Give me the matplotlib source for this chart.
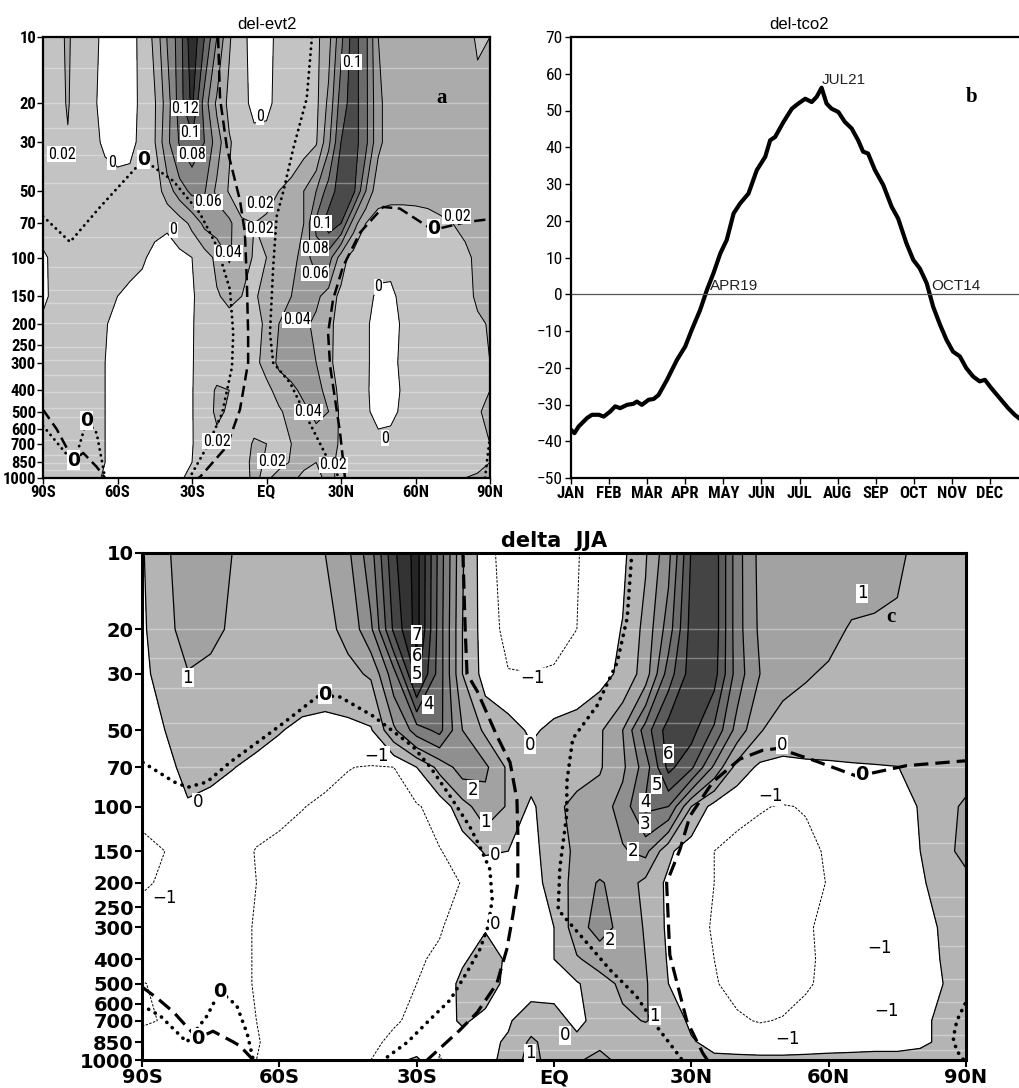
import numpy as np
import matplotlib
matplotlib.use('Agg')
import matplotlib.pyplot as plt
from matplotlib.ticker import NullLocator, FixedLocator

# ---------------- data ----------------
lats = np.arange(-90, 91, 5)
plevs = [10, 20, 30, 50, 70, 100, 150, 200, 300, 400, 500, 700, 850, 1000]
p_ticks = [10, 20, 30, 50, 70, 100, 150, 200, 250, 300, 400, 500, 600, 700, 850, 1000]
lat_ticks = [-90, -60, -30, 0, 30, 60, 90]
lat_labels = ['90S', '60S', '30S', 'EQ', '30N', '60N', '90N']

# panel a : del-evt2  (rows = pressure level, columns = 90S..90N every 5 deg)
evt_p10 = [0.01, 0.015, 0.022, 0.012, 0.005, -0.005, -0.01, -0.005, 0.004, 0.025, 0.061, 0.09, 0.135, 0.10, 0.06, 0.022, 0.006, -0.008, -0.005, 0.004, 0.008, 0.012, 0.015, 0.033, 0.075, 0.11, 0.085, 0.04, 0.03, 0.03, 0.03, 0.03, 0.03, 0.03, 0.028, 0.017, 0.02]
evt_p20 = [0.01, 0.015, 0.021, 0.012, 0.003, -0.006, -0.01, -0.006, 0.004, 0.018, 0.05, 0.09, 0.125, 0.07, 0.036, 0.015, 0.006, -0.005, -0.004, 0.005, 0.01, 0.012, 0.015, 0.045, 0.09, 0.11, 0.085, 0.045, 0.03, 0.03, 0.03, 0.03, 0.03, 0.03, 0.03, 0.028, 0.025]
evt_p30 = [0.01, 0.017, 0.019, 0.01, 0.003, -0.002, -0.004, -0.003, 0.003, 0.019, 0.055, 0.082, 0.092, 0.08, 0.05, 0.022, 0.01, 0.006, 0.006, 0.008, 0.01, 0.012, 0.018, 0.055, 0.1, 0.11, 0.085, 0.045, 0.03, 0.03, 0.03, 0.03, 0.03, 0.03, 0.03, 0.03, 0.03]
evt_p50 = [0.008, 0.01, 0.01, 0.01, 0.008, 0.006, 0.005, 0.005, 0.005, 0.008, 0.03, 0.05, 0.065, 0.062, 0.035, 0.018, 0.012, 0.015, 0.018, 0.02, 0.025, 0.04, 0.06, 0.09, 0.11, 0.105, 0.06, 0.025, 0.025, 0.025, 0.025, 0.025, 0.025, 0.025, 0.025, 0.025, 0.025]
evt_p70 = [0.008, 0.008, 0.008, 0.008, 0.008, 0.006, 0.006, 0.006, 0.005, 0.004, 0.002, 0.01, 0.025, 0.045, 0.05, 0.045, 0.022, 0.02, 0.021, 0.025, 0.025, 0.04, 0.085, 0.11, 0.1, 0.05, 0.02, 0.015, 0.012, 0.012, 0.013, 0.015, 0.018, 0.02, 0.022, 0.024, 0.025]
evt_p100 = [-0.003, 0.005, 0.008, 0.008, 0.008, 0.007, 0.006, 0.004, 0.002, -0.004, -0.006, -0.004, 0.0, 0.01, 0.025, 0.042, 0.03, 0.018, 0.02, 0.028, 0.03, 0.05, 0.07, 0.07, 0.03, 0.01, 0.008, 0.005, 0.004, 0.005, 0.007, 0.009, 0.012, 0.015, 0.018, 0.022, 0.025]
evt_p150 = [-0.003, 0.004, 0.007, 0.007, 0.006, 0.004, 0.0, -0.003, -0.006, -0.008, -0.008, -0.006, -0.002, 0.008, 0.018, 0.025, 0.02, 0.018, 0.025, 0.03, 0.04, 0.05, 0.045, 0.03, 0.015, 0.01, 0.005, -0.003, -0.003, 0.004, 0.006, 0.008, 0.01, 0.013, 0.016, 0.022, 0.025]
evt_p200 = [0.003, 0.005, 0.006, 0.006, 0.004, 0.001, -0.004, -0.008, -0.01, -0.01, -0.01, -0.008, -0.001, 0.006, 0.01, 0.012, 0.014, 0.016, 0.022, 0.04, 0.045, 0.045, 0.035, 0.025, 0.012, 0.006, 0.002, -0.005, -0.005, 0.002, 0.005, 0.007, 0.009, 0.012, 0.015, 0.018, 0.021]
evt_p300 = [0.005, 0.006, 0.006, 0.005, 0.003, 0.0, -0.005, -0.01, -0.012, -0.012, -0.012, -0.01, -0.001, 0.008, 0.012, 0.014, 0.015, 0.016, 0.025, 0.045, 0.05, 0.045, 0.04, 0.025, 0.01, 0.006, 0.002, -0.005, -0.004, 0.003, 0.006, 0.008, 0.01, 0.012, 0.014, 0.016, 0.02]
evt_p400 = [0.006, 0.006, 0.006, 0.005, 0.003, 0.0, -0.005, -0.01, -0.012, -0.012, -0.012, -0.01, -0.001, 0.012, 0.022, 0.02, 0.012, 0.012, 0.016, 0.025, 0.035, 0.045, 0.045, 0.035, 0.012, 0.005, 0.002, -0.006, -0.006, 0.002, 0.006, 0.008, 0.01, 0.012, 0.014, 0.016, 0.02]
evt_p500 = [0.005, 0.006, 0.006, 0.005, 0.003, 0.0, -0.005, -0.01, -0.012, -0.012, -0.012, -0.01, -0.001, 0.012, 0.023, 0.018, 0.01, 0.012, 0.014, 0.018, 0.025, 0.035, 0.045, 0.04, 0.015, 0.006, 0.002, -0.004, -0.004, 0.003, 0.006, 0.008, 0.01, 0.012, 0.014, 0.018, 0.025]
evt_p700 = [0.004, 0.005, 0.005, 0.005, 0.003, 0.0, -0.005, -0.01, -0.012, -0.012, -0.012, -0.008, -0.001, 0.01, 0.015, 0.012, 0.012, 0.022, 0.02, 0.014, 0.02, 0.021, 0.03, 0.035, 0.015, 0.006, 0.004, 0.004, 0.006, 0.006, 0.007, 0.008, 0.01, 0.012, 0.014, 0.016, 0.02]
evt_p850 = [0.004, 0.005, 0.005, 0.004, 0.002, 0.0, -0.005, -0.01, -0.01, -0.01, -0.01, -0.006, 0.0, 0.008, 0.01, 0.01, 0.012, 0.025, 0.018, 0.012, 0.022, 0.022, 0.02, 0.025, 0.015, 0.008, 0.005, 0.005, 0.006, 0.006, 0.007, 0.008, 0.01, 0.012, 0.014, 0.016, 0.02]
evt_p1000 = [0.004, 0.004, 0.004, 0.003, 0.002, -0.001, -0.005, -0.008, -0.008, -0.008, -0.006, -0.002, 0.004, 0.006, 0.008, 0.01, 0.012, 0.024, 0.015, 0.03, 0.022, 0.018, 0.018, 0.022, 0.018, 0.012, 0.01, 0.01, 0.01, 0.01, 0.01, 0.012, 0.014, 0.016, 0.02, 0.022, 0.024]

# panel c : delta JJA
jja_p10 = [-0.1, 0.9, 1.3, 1.3, 0.98, 0.8, 0.75, 0.8, 1.0, 1.8, 3.6, 6.8, 8.4, 4.6, 1.1, -0.6, -1.5, -1.6, -1.4, -1.05, -0.6, -0.2, 0.9, 2.7, 6.1, 6.6, 3.4, 1.7, 1.6, 1.6, 1.5, 1.5, 1.4, 1.1, 0.85, 0.7, 0.7]
jja_p20 = [-0.2, 0.8, 1.25, 1.15, 0.9, 0.75, 0.7, 0.7, 0.8, 1.2, 2.8, 6.2, 8.4, 4.5, 1.0, -0.5, -1.3, -1.5, -1.3, -1.0, -0.5, 0.05, 1.3, 3.5, 6.4, 6.6, 3.4, 1.8, 1.6, 1.6, 1.3, 0.9, 0.85, 0.9, 0.8, 0.7, 0.7]
jja_p30 = [-0.3, 0.5, 0.97, 0.85, 0.7, 0.6, 0.55, 0.5, 0.55, 0.8, 1.1, 3.6, 7.4, 4.5, 1.0, -0.4, -0.95, -0.98, -0.9, -0.8, -0.3, 0.2, 1.5, 4.5, 6.5, 6.4, 3.5, 2.0, 1.5, 1.1, 0.85, 0.8, 0.8, 0.8, 0.75, 0.7, 0.7]
jja_p50 = [-0.4, 0.0, 0.45, 0.4, 0.35, 0.25, 0.05, -0.2, -0.35, -0.3, -0.1, 1.8, 3.5, 4.3, 2.0, 0.8, 0.5, -0.2, 0.3, 0.6, 0.85, 2.0, 4.5, 6.5, 6.4, 4.8, 2.6, 1.1, 0.3, 0.3, 0.3, 0.3, 0.3, 0.35, 0.4, 0.45, 0.5]
jja_p70 = [-0.5, -0.3, 0.3, 0.25, 0.02, -0.2, -0.45, -0.7, -0.85, -0.98, -1.05, -1.0, 0.0, 1.3, 2.5, 2.2, 0.8, 0.5, 0.5, 0.6, 0.9, 1.8, 3.5, 6.3, 5.2, 2.8, 0.6, -0.2, -0.15, -0.1, -0.08, -0.05, -0.03, -0.01, 0.15, 0.35, 0.5]
jja_p100 = [-0.8, -0.6, -0.1, -0.3, -0.45, -0.6, -0.85, -0.98, -1.1, -1.2, -1.25, -1.2, -1.1, -0.6, 0.6, 1.6, 0.9, -0.2, 0.75, 1.3, 1.5, 2.4, 4.2, 4.0, 1.0, -0.4, -0.8, -0.95, -1.05, -0.95, -0.7, -0.5, -0.4, -0.3, 0.05, 0.6, 1.2]
jja_p150 = [-1.2, -1.0, -0.5, -0.5, -0.6, -1.05, -1.15, -1.25, -1.35, -1.4, -1.4, -1.35, -1.25, -1.05, -0.6, 0.1, 0.0, -0.3, 0.5, 1.2, 1.3, 1.9, 2.3, 0.2, -0.6, -1.0, -1.2, -1.3, -1.3, -1.2, -0.9, -0.6, -0.5, -0.4, 0.0, 0.8, 1.2]
jja_p200 = [-1.05, -0.95, -0.6, -0.6, -0.75, -1.0, -1.2, -1.3, -1.4, -1.45, -1.45, -1.4, -1.3, -1.15, -0.98, -0.7, -0.4, -0.2, 0.2, 1.5, 2.1, 1.6, 0.7, -0.2, -0.7, -1.0, -1.3, -1.4, -1.45, -1.3, -0.95, -0.7, -0.6, -0.5, -0.1, 0.3, 0.8]
jja_p300 = [-0.8, -0.7, -0.6, -0.65, -0.8, -1.05, -1.25, -1.35, -1.45, -1.5, -1.5, -1.45, -1.3, -1.1, -0.5, -0.05, -0.2, -0.4, 0.0, 1.6, 2.4, 1.7, 0.9, -0.2, -0.8, -1.05, -1.3, -1.4, -1.4, -1.1, -0.8, -0.6, -0.5, -0.45, -0.3, 0.1, 0.4]
jja_p400 = [-0.6, -0.5, -0.5, -0.6, -0.8, -1.05, -1.25, -1.35, -1.45, -1.5, -1.45, -1.35, -1.15, -0.8, -0.1, 0.3, -0.1, -0.3, 0.0, 0.9, 1.4, 1.4, 1.0, -0.1, -0.7, -1.0, -1.3, -1.4, -1.4, -1.15, -0.8, -0.6, -0.7, -0.7, -0.3, 0.05, 0.35]
jja_p500 = [-1.05, -0.8, -0.5, -0.6, -0.8, -1.05, -1.25, -1.35, -1.4, -1.4, -1.3, -1.15, -1.0, -0.5, 0.2, 0.35, -0.2, -0.4, -0.3, -0.1, 0.6, 1.2, 1.1, 0.0, -0.6, -0.95, -1.2, -1.3, -1.3, -1.1, -0.8, -0.6, -0.8, -0.7, -0.3, 0.0, 0.3]
jja_p700 = [-1.1, -0.95, -0.4, -0.5, -0.7, -1.0, -1.15, -1.25, -1.3, -1.3, -1.2, -1.05, -0.9, -0.3, 0.1, -0.2, -0.1, 0.5, 0.3, -0.2, 0.3, 0.8, 1.05, 0.6, -0.2, -0.6, -0.9, -1.05, -0.95, -0.7, -0.5, -0.4, -0.5, -0.4, -0.1, 0.1, 0.3]
jja_p850 = [-0.7, -0.6, -0.3, -0.4, -0.6, -0.98, -1.1, -1.2, -1.2, -1.2, -1.1, -0.9, -0.8, -0.9, -0.3, -0.2, 0.1, 1.2, 0.5, 0.2, 0.6, 0.4, 0.3, 0.3, 0.1, -0.3, -0.4, -0.5, -0.5, -0.4, -0.3, -0.25, -0.2, -0.2, -0.1, 0.1, 0.3]
jja_p1000 = [-0.5, -0.4, -0.2, -0.3, -0.5, -1.0, -1.1, -1.15, -1.15, -1.1, -1.0, -0.3, 0.2, -1.05, -0.5, -0.2, 0.2, 1.5, 0.3, 0.8, 1.5, 0.5, 0.2, 0.2, 0.2, 0.2, 0.2, 0.2, 0.2, 0.2, 0.2, 0.2, 0.2, 0.2, 0.2, 0.1, 0.4]

# zero lines of companion fields (thick dashed / thick dotted), lat and pressure
evt_dash1_lat = [-19.5, -18.7, -15.9, -10.7, -8.7, -7.9, -7.4, -7.4, -10.7, -16.0, -26.8, -27.5]
evt_dash1_p = [10, 19, 32, 55, 77, 130, 220, 300, 490, 720, 990, 1000]
evt_dash2_lat = [31.6, 29.6, 25.6, 24.8, 26.8, 30.8, 37.7, 47.0, 53.7, 67.0, 80.6, 90.0]
evt_dash2_p = [1000, 620, 310, 220, 155, 110, 77, 59, 60, 75, 69, 67]
evt_dash3_lat = [-90, -84.5, -77.8, -73.8, -68.4, -65.0]
evt_dash3_p = [490, 600, 830, 770, 890, 1000]
evt_dot1_lat = [-90, -79.1, -67.0, -49.6, -37.5, -26.8, -20.0, -14.7, -13.4, -13.9, -17.9, -23.9, -30.8]
evt_dot1_p = [65, 85, 59, 36, 45, 63, 89, 140, 220, 314, 510, 720, 990]
evt_dot2_lat = [18.3, 16.2, 10.8, 6.8, 4.1, 2.7, 1.4, 2.7, 9.5, 16.2, 24.2, 28.3, 29.0]
evt_dot2_p = [10, 19, 32, 50, 65, 110, 220, 300, 370, 530, 800, 950, 1000]
evt_dot3_lat = [-90, -80.5, -77.8, -72.4, -68.4, -65.0]
evt_dot3_p = [580, 780, 880, 550, 625, 1000]
evt_dot4_lat = [90, 89.0, 88.0]
evt_dot4_p = [650, 800, 1000]

jja_dash1_lat = [-19.9, -19.4, -19.0, -16.8, -12.4, -9.6, -8.1, -7.9, -7.9, -9.0, -10.3, -12.5, -16.8, -20.5, -27.7]
jja_dash1_p = [10, 20, 30, 35, 53, 67, 94, 127, 200, 270, 365, 500, 650, 760, 1000]
jja_dash2_lat = [33.5, 32.5, 29.0, 25.3, 24.6, 27.5, 29.7, 34.7, 40.6, 45.6, 49.0, 57.0, 66.2, 77.0, 90.0]
jja_dash2_p = [1000, 940, 700, 385, 200, 148, 109, 80, 65, 60, 59, 66, 76, 69, 66]
jja_dash3_lat = [-90, -86.7, -83.0, -80.2, -77.8, -74.5, -70.0, -68.6, -65.7]
jja_dash3_p = [515, 570, 650, 740, 820, 770, 850, 880, 1000]
jja_dot1_lat = [-89.8, -83, -80, -75.8, -70.8, -64.9, -59.2, -51.8, -50, -46.7, -39.5, -30.8, -27, -22.7, -18.4, -16.2, -14, -13.5, -14.4, -16.2, -19, -22.7, -27, -32, -37.3]
jja_dot1_p = [67, 80, 84, 80, 67, 56, 47, 37, 36.5, 37, 44, 58, 70, 91, 120, 144, 177, 233, 297, 366, 450, 580, 690, 850, 1000]
jja_dot2_lat = [17, 16, 13.8, 9.4, 4.1, 2.8, 2.8, 1.3, 0.9, 2.8, 7.2, 12.2, 18, 22.5, 26.8, 28]
jja_dot2_p = [10, 18, 27, 40, 54, 80, 107, 173, 255, 280, 345, 440, 560, 740, 935, 1000]
jja_dot3_lat = [-90, -86, -80.2, -75.8, -73, -69.3, -67, -65.7]
jja_dot3_p = [610, 670, 850, 670, 535, 610, 790, 1000]
jja_dot4_lat = [89.8, 88.0, 87.2, 88.0, 89.5]
jja_dot4_p = [600, 700, 820, 920, 1000]

# panel b : del-tco2 (x in months since 1 Jan)
tco_month = [0.0, 0.09, 0.2, 0.42, 0.55, 0.73, 0.86, 1.03, 1.16, 1.29, 1.47, 1.64, 1.73, 1.86, 2.04, 2.17, 2.3, 2.52, 2.78, 3.0, 3.17, 3.39, 3.57, 3.74, 3.92, 4.09, 4.27, 4.44, 4.66, 4.88, 5.1, 5.23, 5.36, 5.58, 5.8, 5.97, 6.15, 6.32, 6.45, 6.58, 6.71, 6.84, 7.02, 7.19, 7.37, 7.54, 7.67, 7.8, 7.98, 8.2, 8.42, 8.59, 8.81, 8.99, 9.16, 9.34, 9.51, 9.69, 9.86, 10.03, 10.21, 10.38, 10.56, 10.73, 10.87, 11.04, 11.26, 11.48, 11.65, 11.76]
tco_value = [-36.9, -37.8, -36.0, -33.7, -32.8, -32.8, -33.3, -31.9, -30.5, -31.0, -30.1, -29.8, -29.2, -30.1, -28.7, -28.5, -27.4, -23.3, -17.9, -14.2, -9.7, -4.3, 1.2, 5.7, 11.1, 14.8, 22.0, 24.7, 27.4, 33.8, 37.4, 41.9, 42.8, 46.9, 50.5, 51.9, 53.2, 52.3, 53.7, 56.2, 51.9, 50.5, 49.6, 46.9, 45.1, 41.9, 38.8, 38.3, 33.8, 29.7, 23.8, 20.6, 13.8, 9.3, 7.0, 3.0, -3.4, -8.3, -12.4, -15.6, -16.9, -20.1, -22.4, -23.7, -23.3, -25.6, -28.3, -31.0, -32.8, -33.7]
month_labels = ['JAN', 'FEB', 'MAR', 'APR', 'MAY', 'JUN', 'JUL', 'AUG', 'SEP', 'OCT', 'NOV', 'DEC']
tco_marks = [('APR19', 3.6), ('JUL21', 6.65), ('OCT14', 9.42)]

# contour labels: (text, lat, p, bold)
evt_labels = [('0.02', -82.5, 34, False), ('0', -62.3, 37, False), ('0', -49.6, 36, True),
              ('0.12', -32.8, 21, False), ('0.1', -30.8, 27, False), ('0.08', -30.1, 34, False),
              ('0.06', -23.4, 56, False), ('0.04', -15.4, 95, False), ('0', -37.5, 75, False),
              ('0', -2.6, 23, False), ('0.02', -2.6, 57, False), ('0.02', -2.6, 74, False),
              ('0.1', 34.3, 13, False), ('0.1', 22.2, 70, False), ('0.08', 19.5, 91, False),
              ('0.06', 19.5, 118, False), ('0.04', 12.2, 192, False), ('0.04', 16.9, 500, False),
              ('0.02', 76.6, 65, False), ('0', 67.2, 74, True), ('0', 45.0, 136, False),
              ('0', 47.7, 660, False), ('0.02', -20.1, 682, False), ('0.02', 2.1, 840, False),
              ('0.02', 26.9, 870, False), ('0', -72.4, 550, True), ('0', -77.8, 830, True)]
jja_labels = [('1', -80.0, 31, False), ('0', -77.8, 96, False), ('0', -50.0, 36, True),
              ('\u22121', -38.7, 63, False), ('\u22121', -85.0, 230, False), ('0', -73.0, 535, True),
              ('0', -77.8, 820, True), ('7', -30.0, 21, False), ('6', -30.0, 25.6, False),
              ('5', -30.0, 30, False), ('4', -27.5, 39.5, False), ('2', -17.7, 86, False),
              ('1', -14.9, 115, False), ('0', -12.9, 155, False), ('0', -12.9, 290, False),
              ('\u22121', -4.6, 31, False), ('0', -5.2, 57, False), ('6', 25.0, 62, False),
              ('5', 22.4, 82, False), ('4', 19.9, 96, False), ('3', 19.9, 117, False),
              ('2', 17.3, 150, False), ('2', 12.2, 335, False), ('1', 22.0, 670, False),
              ('0', 2.4, 800, False), ('1', -5.2, 940, False), ('\u22121', 47.2, 91, False),
              ('0', 49.8, 57, False), ('0', 67.3, 75, True), ('1', 67.3, 14.4, False),
              ('\u22121', 71.2, 363, False), ('\u22121', 72.7, 640, False), ('\u22121', 50.9, 830, False)]

# faint light streaks of the scanned shading (pressure of each streak)
evt_streaks = [13.8, 19.9, 25.9, 34.3, 45.9, 80.7, 110, 140, 161, 198, 255, 292, 341, 407, 482, 529, 673, 787, 855, 920]
jja_streaks = [20, 26, 34, 47, 58, 70, 139, 227, 270, 355, 480, 590, 685, 795, 910]

# ---------------- style ----------------
SANS = ['Liberation Sans', 'DejaVu Sans']
COND = ['Roboto Condensed', 'Liberation Sans', 'DejaVu Sans']
W, H = 1019, 1088

fig = plt.figure(figsize=(W / 100, H / 100), dpi=100)
fig.patch.set_facecolor('white')

axa = fig.add_axes([43 / W, 1 - 478 / H, 447 / W, 441 / H])
axb = fig.add_axes([571 / W, 1 - 478 / H, 457 / W, 441 / H])
axc = fig.add_axes([142 / W, 1 - 1060 / H, 824 / W, 507 / H])

dash_style = (0, (4.5, 2.2))
dot_style = (0, (0.05, 2.0))


def pressure_axes(ax, tick_font, tick_size, tick_weight, spine_w):
    ax.set_yscale('log')
    ax.set_ylim(1000, 10)
    ax.set_xlim(-90, 90)
    ax.yaxis.set_major_locator(FixedLocator(p_ticks))
    ax.yaxis.set_minor_locator(NullLocator())
    ax.set_yticklabels([str(p) for p in p_ticks], family=tick_font, fontsize=tick_size, weight=tick_weight)
    ax.set_xticks(lat_ticks)
    ax.set_xticklabels(lat_labels, family=tick_font, fontsize=tick_size, weight=tick_weight)
    ax.tick_params(direction='out', length=4, width=1.0, pad=1)
    for s in ax.spines.values():
        s.set_linewidth(spine_w)


def companion_lines(ax, dashes, dots, lw):
    for la, pp in dashes:
        ax.plot(la, pp, color='k', lw=lw, linestyle=dash_style, dash_capstyle='butt', zorder=4)
    for la, pp in dots:
        ax.plot(la, pp, color='k', lw=lw * 1.15, linestyle=dot_style, dash_capstyle='round', zorder=4)


def put_labels(ax, labels, size, font):
    for txt, la, pp, bold in labels:
        if bold:
            ax.text(la, pp, txt, ha='center', va='center', fontsize=size + 2, weight='bold',
                    family=['DejaVu Sans'], zorder=6,
                    bbox=dict(fc='white', ec='none', pad=0.2))
        else:
            ax.text(la, pp, txt, ha='center', va='center', fontsize=size, family=font, zorder=6,
                    bbox=dict(fc='white', ec='none', pad=0.4))


def streaks(ax, plist):
    for p in plist:
        ax.axhline(p, color='white', lw=1.0, alpha=0.35, zorder=1.5)


# ---- panel a ----
evt = np.array([evt_p10, evt_p20, evt_p30, evt_p50, evt_p70, evt_p100, evt_p150, evt_p200,
                evt_p300, evt_p400, evt_p500, evt_p700, evt_p850, evt_p1000])
evt_fill = [-1, 0, 0.02, 0.04, 0.06, 0.08, 0.10, 0.12, 1]
evt_cols = ['white', '#c3c3c3', '#ababab', '#999999', '#868686', '#6c6c6c', '#4a4a4a', '#2e2e2e']
axa.contourf(lats, plevs, evt, levels=evt_fill, colors=evt_cols, zorder=1)
streaks(axa, evt_streaks)
axa.contour(lats, plevs, evt, levels=[0, 0.02, 0.04, 0.06, 0.08, 0.10, 0.12], colors='k',
            linewidths=0.7, linestyles='solid', zorder=2)
companion_lines(axa, [(evt_dash1_lat, evt_dash1_p), (evt_dash2_lat, evt_dash2_p), (evt_dash3_lat, evt_dash3_p)],
                [(evt_dot1_lat, evt_dot1_p), (evt_dot2_lat, evt_dot2_p), (evt_dot3_lat, evt_dot3_p),
                 (evt_dot4_lat, evt_dot4_p)], 1.8)
pressure_axes(axa, COND, 12, 'bold', 1.6)
put_labels(axa, evt_labels, 11.5, COND)
axa.set_title('del-evt2', family=SANS, fontsize=12, pad=6)
axa.text(70.6, 19, 'a', family=['Liberation Serif', 'DejaVu Serif'], weight='bold', fontsize=15,
         ha='center', va='center', zorder=7)

# ---- panel b ----
axb.plot(tco_month, tco_value, color='k', lw=3.0, solid_joinstyle='round')
axb.axhline(0, color='#555555', lw=0.9)
axb.set_xlim(0, 12)
axb.set_ylim(-50, 70)
axb.set_yticks(np.arange(-50, 71, 10))
axb.set_yticklabels([str(v).replace('-', '\u2212') for v in range(-50, 71, 10)], family=COND, fontsize=12.5)
axb.set_xticks(np.arange(12))
axb.set_xticklabels(month_labels, family=COND, fontsize=12, weight='bold')
axb.tick_params(direction='out', length=4, width=1.0, pad=2)
for s in axb.spines.values():
    s.set_linewidth(1.6)
for txt, m in tco_marks:
    if txt == 'JUL21':
        axb.text(m - 0.07, 56.5, txt, family=SANS, fontsize=11, ha='left', va='bottom', color='#222222')
    else:
        axb.text(m + 0.05, 0.3, txt, family=SANS, fontsize=11, ha='left', va='bottom', color='#222222')
axb.set_title('del-tco2', family=SANS, fontsize=12, pad=6, x=0.5)
axb.text(10.52, 53.8, 'b', family=['Liberation Serif', 'DejaVu Serif'], weight='bold', fontsize=15,
         ha='center', va='center')

# ---- panel c ----
jja = np.array([jja_p10, jja_p20, jja_p30, jja_p50, jja_p70, jja_p100, jja_p150, jja_p200,
                jja_p300, jja_p400, jja_p500, jja_p700, jja_p850, jja_p1000])
jja_fill = [-10, 0, 1, 2, 3, 4, 5, 6, 7, 8, 20]
jja_cols = ['white', '#b4b4b4', '#a2a2a2', '#8f8f8f', '#7e7e7e', '#6d6d6d', '#5b5b5b', '#444444',
            '#333333', '#252525']
axc.contourf(lats, plevs, jja, levels=jja_fill, colors=jja_cols, zorder=1)
streaks(axc, jja_streaks)
axc.contour(lats, plevs, jja, levels=[0, 1, 2, 3, 4, 5, 6, 7, 8], colors='k', linewidths=0.9,
            linestyles='solid', zorder=2)
axc.contour(lats, plevs, jja, levels=[-1], colors='k', linewidths=0.7, linestyles=[(0, (2.5, 1.5))], zorder=2)
companion_lines(axc, [(jja_dash1_lat, jja_dash1_p), (jja_dash2_lat, jja_dash2_p), (jja_dash3_lat, jja_dash3_p)],
                [(jja_dot1_lat, jja_dot1_p), (jja_dot2_lat, jja_dot2_p), (jja_dot3_lat, jja_dot3_p),
                 (jja_dot4_lat, jja_dot4_p)], 2.3)
pressure_axes(axc, ['DejaVu Sans'], 14, 'bold', 2.2)
axc.tick_params(length=5, width=1.5)
put_labels(axc, jja_labels, 12, ['DejaVu Sans'])
axc.set_title('delta  JJA', family=['DejaVu Sans'], weight='bold', fontsize=15, pad=4)
axc.text(73.6, 17.9, 'c', family=['Liberation Serif', 'DejaVu Serif'], weight='bold', fontsize=15,
         ha='center', va='center', zorder=7)

fig.savefig('out.png', dpi=100, facecolor='white')
